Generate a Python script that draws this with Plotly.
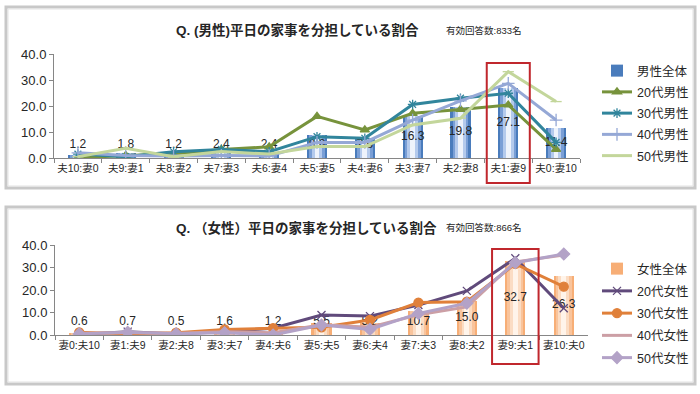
import plotly.graph_objects as go

# ---------------- data ----------------
male_cats = ["夫10:妻0", "夫9:妻1", "夫8:妻2", "夫7:妻3", "夫6:妻4", "夫5:妻5",
             "夫4:妻6", "夫3:妻7", "夫2:妻8", "夫1:妻9", "夫0:妻10"]
male_total = [1.2, 1.8, 1.2, 2.4, 2.4, 8.8, 7.6, 16.3, 19.8, 27.1, 11.4]
male_20s = [0.0, 1.0, 1.5, 3.3, 4.3, 16.0, 10.8, 17.2, 18.7, 20.4, 3.3]
male_30s = [1.5, 0.5, 2.4, 3.3, 2.4, 8.2, 7.6, 20.6, 23.0, 24.9, 6.0]
male_40s = [2.0, 1.0, 0.8, 1.0, 0.8, 6.0, 6.0, 14.6, 22.0, 28.7, 14.6]
male_50s = [0.5, 3.7, 0.5, 2.5, 1.5, 4.4, 4.4, 12.7, 15.3, 33.2, 21.7]

female_cats = ["妻0:夫10", "妻1:夫9", "妻2:夫8", "妻3:夫7", "妻4:夫6", "妻5:夫5",
               "妻6:夫4", "妻7:夫3", "妻8:夫2", "妻9:夫1", "妻10:夫0"]
female_total = [0.6, 0.7, 0.5, 1.6, 1.2, 5.5, 5.2, 10.7, 15.0, 32.7, 26.3]
female_20s = [0.2, 1.5, 0.5, 1.5, 3.0, 8.9, 8.4, 13.3, 19.6, 34.1, 11.9]
female_30s = [1.2, 0.5, 1.0, 2.5, 3.0, 3.4, 6.7, 14.4, 14.8, 31.6, 21.5]
female_40s = [0.8, 1.0, 0.8, 1.5, 1.0, 4.5, 3.5, 9.0, 12.5, 32.5, 35.5]
female_50s = [0.5, 1.2, 0.6, 1.0, 0.0, 4.4, 2.5, 9.6, 14.1, 32.1, 36.0]

male_title = "Q. (男性)平日の家事を分担している割合"
male_sub = "有効回答数:833名"
female_title = "Q. （女性）平日の家事を分担している割合"
female_sub = "有効回答数:866名"

W, H = 700, 394
FONT = "Liberation Sans, Noto Sans CJK JP, sans-serif"
TXT = "#262626"

def px(x):
    return x / W

def py(y):
    return 1 - y / H

fig = go.Figure()


def add_chart(xa, ya, legend, cats, total, series, bar_layers, label_min, total_name):
    xr = "x" if xa == "xaxis" else "x" + xa[5:]
    yr = "y" if ya == "yaxis" else "y" + ya[5:]
    widths = [0.42, 0.33, 0.22, 0.1]
    for k, (w, c) in enumerate(zip(widths, bar_layers)):
        fig.add_trace(go.Bar(
            x=cats, y=total, width=w, marker=dict(color=c, line=dict(width=0)),
            name=total_name, showlegend=(k == 0), legend=legend,
            legendgroup=total_name, xaxis=xr, yaxis=yr))
    fig.add_trace(go.Scatter(
        x=cats, y=[max(v / 2, label_min) for v in total],
        text=[f"{v:.1f}" for v in total], mode="text",
        textfont=dict(size=12, color=TXT, family=FONT),
        showlegend=False, xaxis=xr, yaxis=yr, hoverinfo="skip"))
    for name, vals, color, sym, msize in series:
        fig.add_trace(go.Scatter(
            x=cats, y=vals, name=name, legend=legend, legendgroup=name,
            mode="lines+markers" if sym else "lines",
            line=dict(color=color, width=3),
            marker=dict(symbol=sym or "circle", size=msize, color=color,
                        line=dict(color=color, width=1.3)),
            xaxis=xr, yaxis=yr))


add_chart("xaxis", "yaxis", "legend", male_cats, male_total, [
    ("20代男性", male_20s, "#77933C", "triangle-up", 8),
    ("30代男性", male_30s, "#31859C", "asterisk-open", 8),
    ("40代男性", male_40s, "#95A8D6", "cross-thin-open", 9),
    ("50代男性", male_50s, "#C3D69B", "line-ew-open", 8),
], ["#4A7CBC", "#7A9FD6", "#B4CAEC", "#EEF3FB"], 5.0, "男性全体")

add_chart("xaxis2", "yaxis2", "legend2", female_cats, female_total, [
    ("20代女性", female_20s, "#604A7B", "x-thin-open", 8),
    ("30代女性", female_30s, "#E0803A", "circle", 9),
    ("40代女性", female_40s, "#CC9FA5", None, 0),
    ("50代女性", female_50s, "#B3A2C7", "diamond", 9),
], ["#F7AE76", "#F9C49C", "#FBDCC3", "#FFF4EA"], 6.0, "女性全体")

axis_common = dict(showline=True, linecolor="#868686", linewidth=1, ticks="outside",
                   tickcolor="#868686", ticklen=4, showgrid=False, zeroline=False,
                   automargin=False)

fig.update_layout(
    width=W, height=H, margin=dict(l=0, r=0, t=0, b=0, autoexpand=False),
    paper_bgcolor="white", plot_bgcolor="rgba(0,0,0,0)",
    font=dict(family=FONT, color=TXT),
    barmode="overlay", bargap=0,
    xaxis=dict(axis_common, type="category", domain=[px(54), px(580)], anchor="y",
               tickson="boundaries", range=[-0.5, 10.5], tickangle=0,
               tickfont=dict(size=10.5, color=TXT)),
    yaxis=dict(axis_common, domain=[py(158), py(54)], anchor="x", range=[0, 40],
               dtick=10, tickformat=".1f", tickfont=dict(size=13, color=TXT)),
    xaxis2=dict(axis_common, type="category", domain=[px(55), px(588)], anchor="y2",
                tickson="boundaries", range=[-0.5, 10.5], tickangle=0,
                tickfont=dict(size=10.5, color=TXT)),
    yaxis2=dict(axis_common, domain=[py(335), py(245)], anchor="x2", range=[0, 40],
                dtick=10, tickformat=".1f", tickfont=dict(size=13, color=TXT)),
    legend=dict(x=px(597), y=py(56), xanchor="left", yanchor="top",
                font=dict(size=12.5, color=TXT), itemwidth=30, tracegroupgap=2,
                bgcolor="rgba(0,0,0,0)"),
    legend2=dict(x=px(597), y=py(254), xanchor="left", yanchor="top",
                 font=dict(size=12.5, color=TXT), itemwidth=30, tracegroupgap=3,
                 bgcolor="rgba(0,0,0,0)"),
)

# titles
for title, sub, ty in [(male_title, male_sub, 30), (female_title, female_sub, 228)]:
    fig.add_annotation(x=px(174), y=py(ty), xref="paper", yref="paper", xanchor="left",
                       yanchor="middle", showarrow=False, text=f"<b>{title}</b>",
                       font=dict(size=13.5, color=TXT, family=FONT))
    fig.add_annotation(x=px(444), y=py(ty), xref="paper", yref="paper", xanchor="left",
                       yanchor="middle", showarrow=False, text=sub,
                       font=dict(size=9.5, color=TXT, family=FONT))

# frames
for y0, y1 in [(7, 188), (207, 384)]:
    fig.add_shape(type="rect", xref="paper", yref="paper", x0=px(6), x1=px(695),
                  y0=py(y1), y1=py(y0), line=dict(color="#C8C8C8", width=3),
                  fillcolor="rgba(0,0,0,0)", layer="below")
    fig.add_shape(type="rect", xref="paper", yref="paper", x0=px(8), x1=px(693),
                  y0=py(y1 - 2), y1=py(y0 + 2), line=dict(color="#E3E3E3", width=1),
                  fillcolor="rgba(0,0,0,0)", layer="below")

# red highlight boxes around the peak category
hi_m = male_total.index(max(male_total))
hi_f = female_total.index(max(female_total))
fig.add_shape(type="rect", xref="x", yref="paper", x0=hi_m - 0.45, x1=hi_m + 0.45,
              y0=py(183), y1=py(63), line=dict(color="#C0272D", width=2))
fig.add_shape(type="rect", xref="x2", yref="paper", x0=hi_f - 0.48, x1=hi_f + 0.48,
              y0=py(364), y1=py(249), line=dict(color="#C0272D", width=2))

fig.write_html("out.html", config={"displayModeBar": False},
               post_script="document.body.style.margin='0';"
                           "document.body.style.padding='0';"
                           "document.body.style.overflow='hidden';")
